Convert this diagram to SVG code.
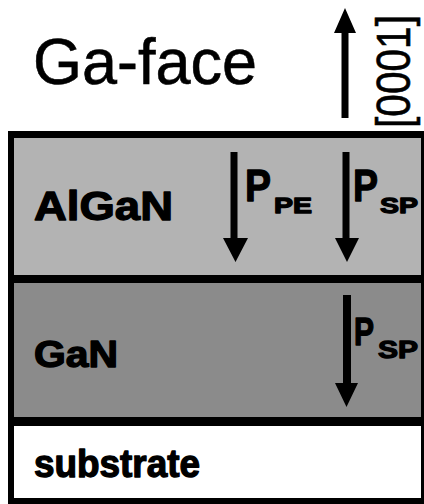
<svg xmlns="http://www.w3.org/2000/svg" width="424" height="504" viewBox="0 0 424 504">
<style>
.lbl{font-family:"Liberation Sans",Arial,Helvetica,sans-serif;fill:#000}
.b{font-weight:bold;stroke:#000;stroke-width:1.3;stroke-linejoin:round}
.r{stroke:#000;stroke-width:0.6}
.arr{fill:#000}
</style>
<rect x="0" y="0" width="424" height="504" fill="#fff"/>
<g id="header">
<text class="lbl r" x="33" y="84" font-size="65" textLength="224" lengthAdjust="spacingAndGlyphs">Ga-face</text>
<text class="lbl r" transform="translate(410,128) rotate(-90)" font-size="49" textLength="113" lengthAdjust="spacingAndGlyphs">[0001]</text>
</g>
<g id="stack">
<rect x="8" y="131" width="416" height="373" fill="#000"/>
</g>
<g id="AlGaN">
<rect x="14" y="138" width="407" height="137" fill="#b3b3b3"/>
<text class="lbl b" x="34" y="220" font-size="41" textLength="139" lengthAdjust="spacingAndGlyphs">AlGaN</text>
</g>
<g id="GaN">
<rect x="14" y="283" width="407" height="134" fill="#8b8b8b"/>
<text class="lbl b" x="34" y="367" font-size="36" textLength="84" lengthAdjust="spacingAndGlyphs">GaN</text>
</g>
<g id="substrate">
<rect x="14" y="426" width="407" height="72" fill="#fff"/>
<text class="lbl b" x="34" y="477" font-size="38" textLength="166" lengthAdjust="spacingAndGlyphs">substrate</text>
</g>
<g id="arrows">
<path class="arr" d="M341.5,118 H348.5 V33 H356 L345,8 L334,33 H341.5 Z"/>
<path class="arr" d="M230.5,152 H237.5 V238 H248 L235.5,262 L223,238 H230.5 Z"/>
<path class="arr" d="M342.5,152 H349.5 V238 H359 L347,262 L335,238 H342.5 Z"/>
<path class="arr" d="M343,295 H351 V383 H358 L346.5,407 L335,383 H343 Z"/>
</g>
<g id="labels">
<text class="lbl b" x="245" y="201" font-size="45" textLength="26" lengthAdjust="spacingAndGlyphs">P</text>
<text class="lbl b" x="274" y="213" font-size="22" textLength="38" lengthAdjust="spacingAndGlyphs">PE</text>
<text class="lbl b" x="353" y="201" font-size="45" textLength="25" lengthAdjust="spacingAndGlyphs">P</text>
<text class="lbl b" x="380" y="213" font-size="22" textLength="38" lengthAdjust="spacingAndGlyphs">SP</text>
<text class="lbl b" x="354" y="345" font-size="38" textLength="20" lengthAdjust="spacingAndGlyphs">P</text>
<text class="lbl b" x="378" y="358" font-size="24" textLength="40" lengthAdjust="spacingAndGlyphs">SP</text>
</g>
</svg>
